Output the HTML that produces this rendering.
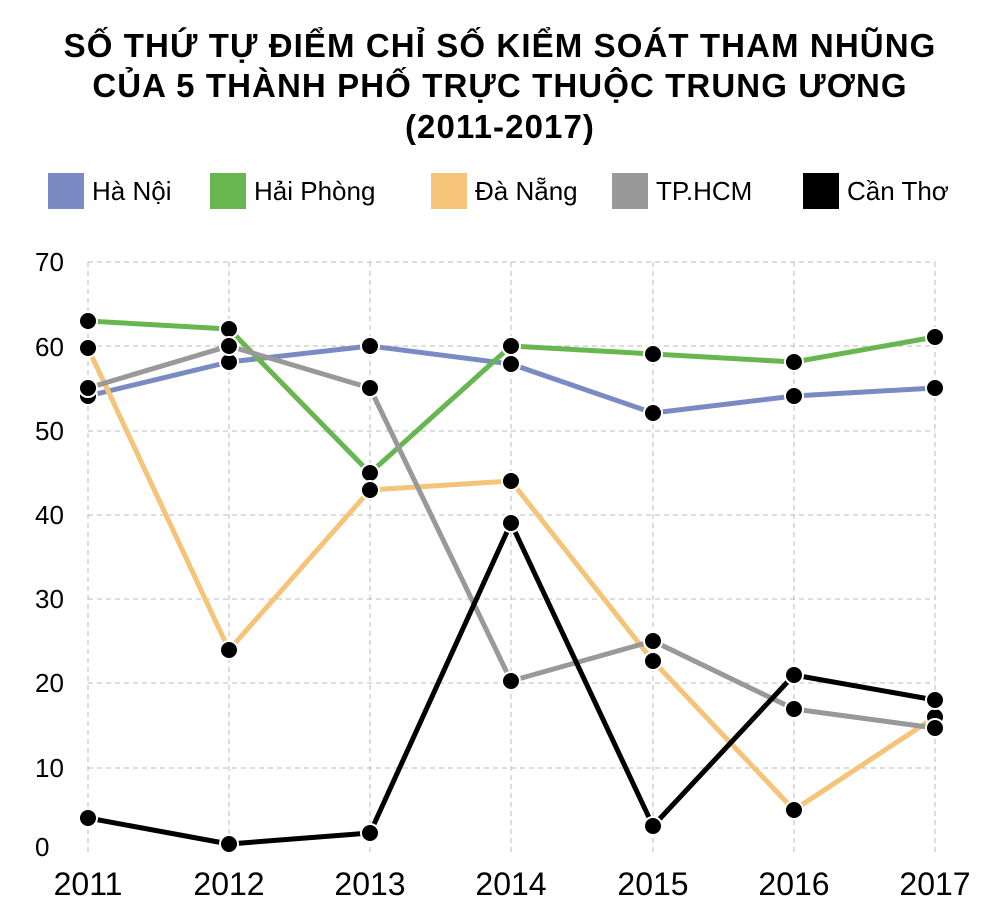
<!DOCTYPE html>
<html><head><meta charset="utf-8"><style>
html,body{margin:0;padding:0;background:#fff;}
body{width:1000px;height:916px;overflow:hidden;font-family:"Liberation Sans",sans-serif;}
</style></head><body>
<svg width="1000" height="916" xmlns="http://www.w3.org/2000/svg" font-family="Liberation Sans, sans-serif">
<g font-weight="bold" font-size="33" text-anchor="middle" fill="#000" letter-spacing="1.1">
<text x="500" y="57">SỐ THỨ TỰ ĐIỂM CHỈ SỐ KIỂM SOÁT THAM NHŨNG</text>
<text x="500" y="97">CỦA 5 THÀNH PHỐ TRỰC THUỘC TRUNG ƯƠNG</text>
<text x="500" y="138">(2011-2017)</text>
</g>
<g font-size="26" fill="#000">
<rect x="48" y="173" width="36" height="36" fill="#7a8bc4"/><text x="92" y="200">Hà Nội</text>
<rect x="210" y="173" width="36" height="36" fill="#68b64f"/><text x="254" y="200">Hải Phòng</text>
<rect x="431" y="173" width="36" height="36" fill="#f5c478"/><text x="475" y="200">Đà Nẵng</text>
<rect x="612" y="173" width="36" height="36" fill="#999"/><text x="656" y="200">TP.HCM</text>
<rect x="803" y="173" width="36" height="36" fill="#000"/><text x="847" y="200">Cần Thơ</text>
</g>
<g stroke="#bbb" stroke-width="1" stroke-dasharray="5,4" fill="none">
<path d="M88 262H935M88 346H935M88 431H935M88 515H935M88 599H935M88 683H935M88 768H935"/>
<path d="M88 262V852M229 262V852M370 262V852M511 262V852M653 262V852M794 262V852M935 262V852"/>
</g>
<g font-size="26" fill="#000">
<text x="35" y="271">70</text><text x="35" y="356">60</text><text x="35" y="440">50</text>
<text x="35" y="524">40</text><text x="35" y="608">30</text><text x="35" y="692">20</text>
<text x="35" y="777">10</text><text x="35" y="856">0</text>
</g>
<g font-size="32" fill="#000" text-anchor="middle">
<text x="88" y="895">2011</text><text x="229" y="895">2012</text><text x="370" y="895">2013</text>
<text x="511" y="895">2014</text><text x="653" y="895">2015</text><text x="794" y="895">2016</text><text x="935" y="895">2017</text>
</g>
<g fill="none" stroke-width="5" stroke-linejoin="round">
<polyline stroke="#7a8bc4" points="88,396 229,362 370,346 511,364 653,413 794,396 935,388"/>
<polyline stroke="#68b64f" points="88,321 229,329 370,473 511,346 653,354 794,362 935,337"/>
<polyline stroke="#f5c478" points="88,348 229,650 370,490 511,481 653,661 794,810 935,717"/>
<polyline stroke="#999" points="88,388 229,346 370,388 511,681 653,641 794,709 935,728"/>
<polyline stroke="#000" points="88,818 229,844 370,833 511,523 653,826 794,675 935,700"/>
</g>
<g fill="#000" stroke="#fff" stroke-width="2">
<circle cx="88" cy="396" r="9"/><circle cx="229" cy="362" r="9"/><circle cx="370" cy="346" r="9"/><circle cx="511" cy="364" r="9"/><circle cx="653" cy="413" r="9"/><circle cx="794" cy="396" r="9"/><circle cx="935" cy="388" r="9"/>
<circle cx="88" cy="321" r="9"/><circle cx="229" cy="329" r="9"/><circle cx="370" cy="473" r="9"/><circle cx="511" cy="346" r="9"/><circle cx="653" cy="354" r="9"/><circle cx="794" cy="362" r="9"/><circle cx="935" cy="337" r="9"/>
<circle cx="88" cy="348" r="9"/><circle cx="229" cy="650" r="9"/><circle cx="370" cy="490" r="9"/><circle cx="511" cy="481" r="9"/><circle cx="653" cy="661" r="9"/><circle cx="794" cy="810" r="9"/><circle cx="935" cy="717" r="9"/>
<circle cx="88" cy="388" r="9"/><circle cx="229" cy="346" r="9"/><circle cx="370" cy="388" r="9"/><circle cx="511" cy="681" r="9"/><circle cx="653" cy="641" r="9"/><circle cx="794" cy="709" r="9"/><circle cx="935" cy="728" r="9"/>
<circle cx="88" cy="818" r="9"/><circle cx="229" cy="844" r="9"/><circle cx="370" cy="833" r="9"/><circle cx="511" cy="523" r="9"/><circle cx="653" cy="826" r="9"/><circle cx="794" cy="675" r="9"/><circle cx="935" cy="700" r="9"/>
</g>
</svg>
</body></html>
